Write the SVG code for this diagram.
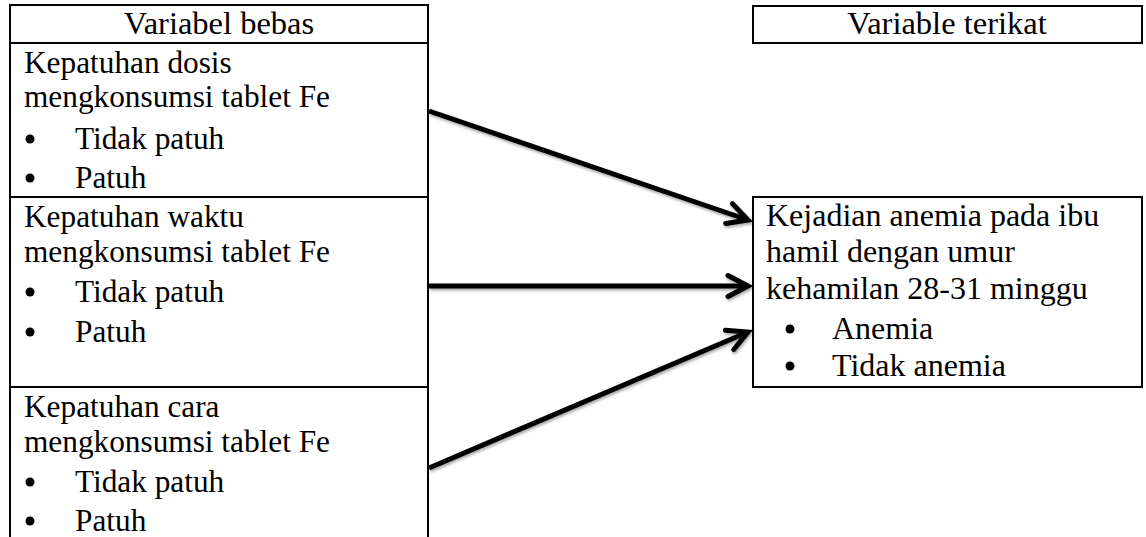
<svg xmlns="http://www.w3.org/2000/svg" width="1146" height="537" viewBox="0 0 1146 537">
<style>
  .t { font-family: "Liberation Serif", "Times New Roman", serif; font-size: 31.3px; fill: #000; }
  .r { font-size: 32px; }
  .h { font-size: 32.5px; text-anchor: middle; }
  .b { fill: #000; }
  .box { fill: none; stroke: #000; stroke-width: 2; }
  .ln { stroke: #000; stroke-width: 2; fill: none; }
  .arr { stroke: #000; stroke-width: 5; fill: none; marker-end: url(#head); }
</style>
<defs>
  <marker id="head" markerUnits="userSpaceOnUse" markerWidth="30" markerHeight="30" refX="22" refY="12" orient="auto" overflow="visible">
    <path d="M 2 1.5 L 22 12 L 2 22.5" fill="none" stroke="#000" stroke-width="5" stroke-linecap="round" stroke-linejoin="miter"/>
  </marker>
  <filter id="sh" x="-10%" y="-10%" width="120%" height="140%">
    <feDropShadow dx="1" dy="2" stdDeviation="1.5" flood-color="#000" flood-opacity="0.35"/>
  </filter>
</defs>

<g id="variabel-bebas">
  <line class="ln" x1="10" y1="5" x2="428" y2="5"/>
  <line class="ln" x1="10" y1="43" x2="428" y2="43"/>
  <line class="ln" x1="10" y1="4" x2="10" y2="537"/>
  <line class="ln" x1="428" y1="4" x2="428" y2="537"/>
  <text class="t h" x="219" y="34">Variabel bebas</text>
</g>

<g id="kepatuhan-dosis">
  <line class="ln" x1="10" y1="197" x2="428" y2="197"/>
  <text class="t" x="24" y="73">Kepatuhan dosis</text>
  <text class="t" x="24" y="107">mengkonsumsi tablet Fe</text>
  <circle class="b" cx="30" cy="139" r="4.5"/>
  <text class="t" x="75" y="149">Tidak patuh</text>
  <circle class="b" cx="30" cy="178" r="4.5"/>
  <text class="t" x="75" y="188">Patuh</text>
</g>

<g id="kepatuhan-waktu">
  <line class="ln" x1="10" y1="387" x2="428" y2="387"/>
  <text class="t" x="24" y="227">Kepatuhan waktu</text>
  <text class="t" x="24" y="262">mengkonsumsi tablet Fe</text>
  <circle class="b" cx="30" cy="292" r="4.5"/>
  <text class="t" x="75" y="302">Tidak patuh</text>
  <circle class="b" cx="30" cy="332" r="4.5"/>
  <text class="t" x="75" y="342">Patuh</text>
</g>

<g id="kepatuhan-cara">
  <text class="t" x="24" y="417">Kepatuhan cara</text>
  <text class="t" x="24" y="452">mengkonsumsi tablet Fe</text>
  <circle class="b" cx="30" cy="482" r="4.5"/>
  <text class="t" x="75" y="492">Tidak patuh</text>
  <circle class="b" cx="30" cy="521" r="4.5"/>
  <text class="t" x="75" y="531">Patuh</text>
</g>

<g id="variable-terikat">
  <rect class="box" x="753" y="6" width="389" height="37"/>
  <text class="t h" x="947" y="34">Variable terikat</text>
</g>

<g id="kejadian-anemia">
  <rect class="box" x="753" y="197" width="389" height="190"/>
  <text class="t r" x="766" y="226">Kejadian anemia pada ibu</text>
  <text class="t r" x="766" y="262">hamil dengan umur</text>
  <text class="t r" x="766" y="299">kehamilan 28-31 minggu</text>
  <circle class="b" cx="790" cy="329" r="4.5"/>
  <text class="t r" x="832" y="339">Anemia</text>
  <circle class="b" cx="790" cy="366" r="4.5"/>
  <text class="t r" x="832" y="376">Tidak anemia</text>
</g>

<g id="connectors" filter="url(#sh)">
  <line class="arr" x1="429" y1="111" x2="748" y2="220"/>
  <line class="arr" x1="429" y1="286" x2="748" y2="286"/>
  <line class="arr" x1="429" y1="468" x2="748" y2="332"/>
</g>
</svg>
